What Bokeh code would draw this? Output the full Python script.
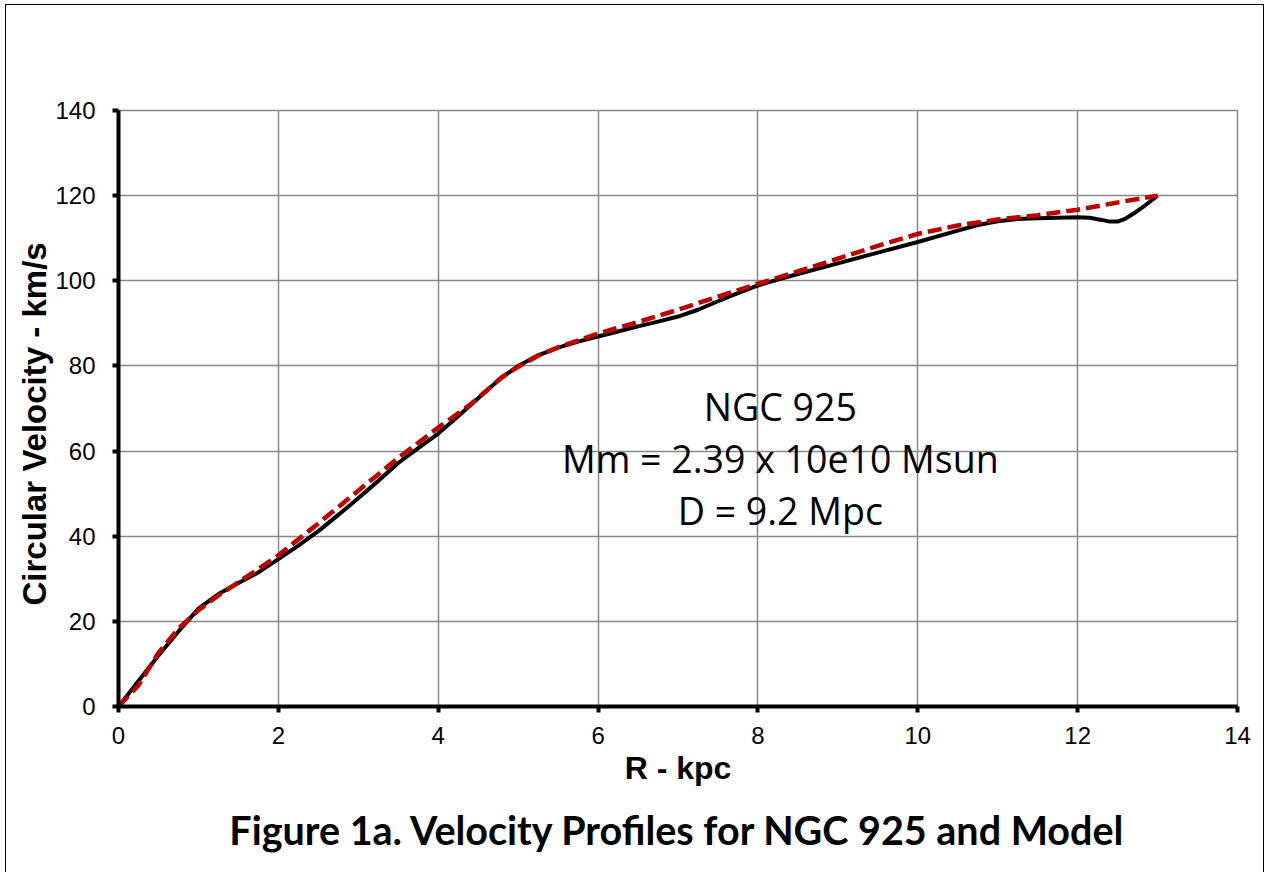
from bokeh.embed import file_html
from bokeh.models import Label, Range1d, SingleIntervalTicker, Title
from bokeh.plotting import figure
from bokeh.resources import INLINE

# Observed rotation curve of NGC 925 (R in kpc, V in km/s)
r_obs = [0, 0.25, 0.5, 0.75, 1.0, 1.25, 1.5, 1.75, 2.0, 2.25, 2.5, 2.75, 3.0,
         3.25, 3.5, 3.75, 4.0, 4.25, 4.5, 4.75, 5.0, 5.25, 5.5, 5.75, 6.0,
         6.25, 6.5, 6.75, 7.0, 7.25, 7.5, 7.75, 8.0, 8.25, 8.5, 9.0, 9.5,
         10.0, 10.5, 10.75, 11.0, 11.25, 11.5, 11.75, 12.0, 12.15, 12.3, 12.4,
         12.5, 12.6, 12.7, 12.85, 13.0]
v_obs = [0, 6.0, 12.0, 17.6, 23.0, 26.4, 29.0, 31.5, 34.6, 37.8, 41.2, 45.0, 48.9,
         53.0, 57.2, 60.7, 64.1, 68.2, 72.4, 76.6, 80.0, 82.5, 84.3, 85.7, 86.9,
         88.1, 89.3, 90.4, 91.6, 93.2, 95.2, 97.1, 98.9, 100.3, 101.6, 104.1, 106.6,
         109.1, 111.8, 113.1, 114.0, 114.5, 114.7, 114.8, 114.9, 114.8, 114.3, 113.9,
         113.9, 114.6, 115.8, 117.8, 120.0]

# Model rotation curve
r_model = [0, 0.25, 0.5, 0.75, 1.0, 1.25, 1.5, 1.75, 2.0, 2.5, 3.0, 3.5, 4.0,
           4.4, 4.8, 5.0, 5.25, 5.5, 6.0, 6.5, 7.0, 7.5, 8.0, 8.5, 9.0, 9.5,
           10.0, 10.5, 11.0, 11.5, 12.0, 12.5, 13.0]
v_model = [0, 5.0, 12.6, 18.3, 22.6, 26.1, 29.2, 32.3, 35.5, 43.0, 50.7, 58.4, 65.5,
           70.9, 77.4, 79.8, 82.4, 84.4, 87.6, 90.3, 93.2, 96.3, 99.3, 102.2, 105.2, 108.2,
           111.0, 113.0, 114.4, 115.4, 116.7, 118.4, 120.0]

x_tick_step = 2
y_tick_step = 20

info_lines = ["NGC 925", "Mm = 2.39 x 10e10 Msun", "D = 9.2 Mpc"]
x_title = "R - kpc"
y_title = "Circular Velocity - km/s"
caption = "Figure 1a. Velocity Profiles for NGC 925 and Model"

GRID = "#888888"
AXIS_FONT = "Liberation Sans"
TEXT_FONT = "Open Sans"

p = figure(width=1257, height=867,
           x_range=Range1d(0, 14), y_range=Range1d(0, 140),
           output_backend="svg", toolbar_location=None,
           min_border_left=112, min_border_right=26,
           min_border_top=105, min_border_bottom=166)
p.margin = (5, 0, 0, 6)
p.styles = {"outline": "1.5px solid #000000"}
p.background_fill_color = "white"
p.border_fill_color = "white"
p.outline_line_color = GRID
p.outline_line_width = 1.5

x_ticker = SingleIntervalTicker(interval=x_tick_step)
y_ticker = SingleIntervalTicker(interval=y_tick_step)
p.xaxis.ticker = x_ticker
p.yaxis.ticker = y_ticker
p.xgrid.ticker = x_ticker
p.ygrid.ticker = y_ticker
for g in (p.xgrid, p.ygrid):
    g.grid_line_color = GRID
    g.grid_line_width = 1.5

for ax in (p.xaxis, p.yaxis):
    ax.axis_line_color = "black"
    ax.axis_line_width = 4
    ax.major_tick_line_color = "black"
    ax.major_tick_line_width = 4
    ax.major_tick_out = 6
    ax.major_tick_in = 0
    ax.minor_tick_line_color = None
    ax.major_label_text_font = AXIS_FONT
    ax.major_label_text_font_size = "24px"
    ax.major_label_text_color = "black"

p.xaxis.major_label_standoff = 14
p.yaxis.major_label_standoff = 17

p.xaxis.axis_label = x_title
p.xaxis.axis_label_text_font = AXIS_FONT
p.xaxis.axis_label_text_font_size = "32px"
p.xaxis.axis_label_text_font_style = "bold"
p.xaxis.axis_label_text_color = "black"
p.xaxis.axis_label_standoff = 3

# y title sits outside the tick labels, starting a little above the x axis
y_lab = Title(text=y_title, align="left", offset=101,
              text_font=AXIS_FONT, text_font_size="33px",
              text_font_style="bold", text_color="black", standoff=0)
p.add_layout(y_lab, "left")

# caption under the chart
cap = Title(text=caption, align="center",
            text_font="Lato", text_font_size="39.5px",
            text_font_style="bold", text_color="black", standoff=30)
p.add_layout(cap, "below")

# curves: observed (solid black) under the model (dashed red)
p.line(r_obs, v_obs, line_color="black", line_width=4, line_join="round")
p.line(r_model, v_model, line_color="#C00000", line_width=4.5, line_dash="14 6")

# galaxy parameters
for line, y in zip(info_lines, [70.55, 58.3, 46.1]):
    p.add_layout(Label(x=8.28, y=y, text=line, text_align="center",
                       text_baseline="alphabetic",
                       text_font=TEXT_FONT, text_font_size="37.5px",
                       text_color="black"))

open("out.html", "w").write(file_html(p, INLINE))
